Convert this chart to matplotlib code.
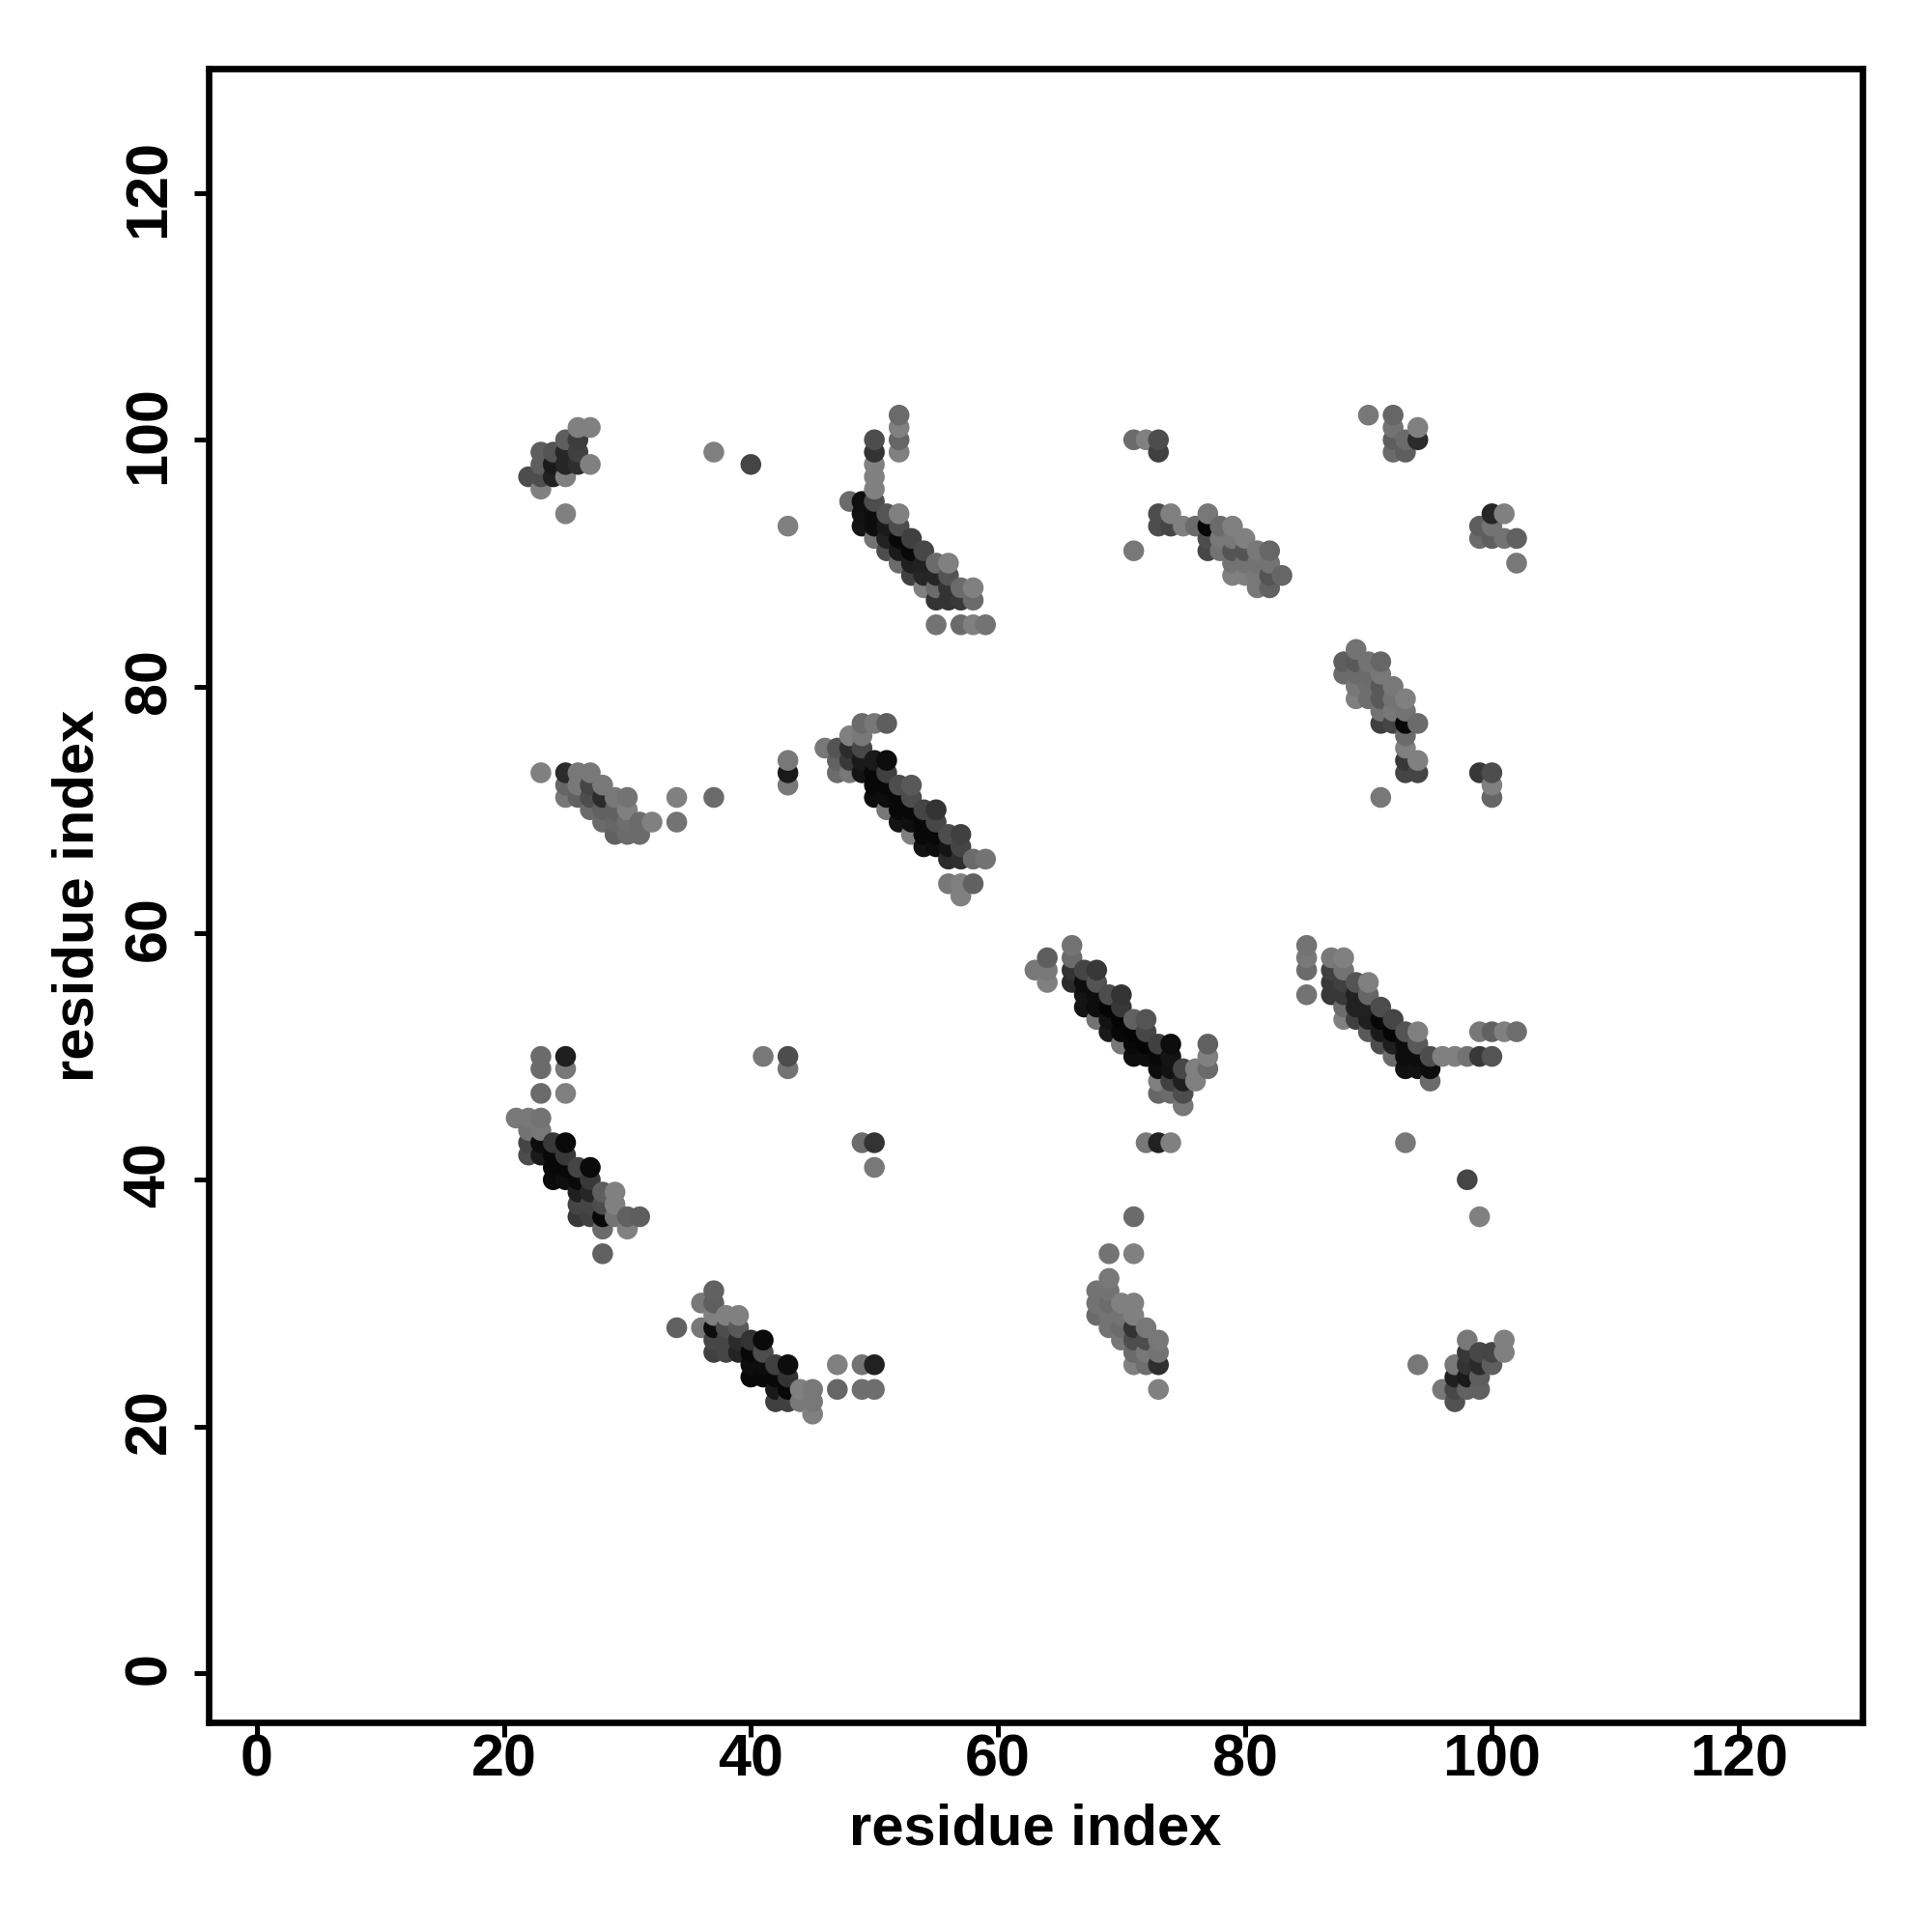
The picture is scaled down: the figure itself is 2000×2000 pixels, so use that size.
#!/usr/bin/env python
"""Residue contact map, grey level per contact."""
import matplotlib

matplotlib.use("Agg")
import numpy as np
from matplotlib import pyplot as plt
from matplotlib.transforms import ScaledTranslation

plt.rcParams["font.family"] = ["Liberation Sans", "DejaVu Sans"]

# (residue x, residue y, grey level), one list per patch
top_left = [
    (22, 97, .30), (23, 96, .50), (23, 97, .30), (23, 98, .37), (23, 99, .37), (24, 97, .13),
    (24, 98, .10), (24, 99, .33), (25, 94, .50), (25, 97, .50), (25, 98, .15), (25, 99, .15),
    (25, 100, .37), (26, 98, .18), (26, 99, .25), (26, 100, .24), (26, 101, .50), (27, 98, .50),
    (27, 101, .50), (37, 99, .50), (40, 98, .27), (43, 93, .50),
]
top_band = [
    (48, 95, .42), (49, 93, .08), (49, 94, .07), (49, 95, .06), (50, 92, .45), (50, 93, .05),
    (50, 94, .05), (50, 95, .30), (50, 96, .50), (50, 97, .50), (50, 98, .50), (50, 99, .20),
    (50, 100, .30), (51, 91, .30), (51, 92, .13), (51, 93, .10), (51, 94, .33), (52, 90, .42),
    (52, 91, .10), (52, 92, .03), (52, 93, .30), (52, 94, .50), (52, 99, .50), (52, 100, .40),
    (52, 101, .50), (52, 102, .42), (53, 89, .25), (53, 90, .12), (53, 91, .03), (53, 92, .25),
    (54, 88, .50), (54, 89, .15), (54, 90, .13), (54, 91, .28), (55, 85, .45), (55, 87, .20),
    (55, 88, .42), (55, 89, .15), (55, 90, .42), (56, 87, .20), (56, 88, .20), (56, 89, .33),
    (56, 90, .50), (57, 85, .42), (57, 87, .22), (57, 88, .42), (58, 85, .50), (58, 87, .42),
    (58, 88, .50), (59, 85, .45),
]
top_mid = [
    (71, 91, .47), (71, 100, .42), (72, 100, .50), (73, 93, .30), (73, 94, .30), (73, 99, .25),
    (73, 100, .30), (74, 93, .27), (74, 94, .50), (75, 93, .50), (76, 93, .42), (77, 91, .28),
    (77, 92, .30), (77, 93, .03), (77, 94, .47), (78, 91, .45), (78, 92, .47), (78, 93, .42),
    (79, 89, .50), (79, 90, .45), (79, 91, .33), (79, 92, .47), (79, 93, .50), (80, 89, .50),
    (80, 90, .45), (80, 91, .33), (80, 92, .50), (81, 88, .47), (81, 89, .47), (81, 90, .45),
    (81, 91, .47), (82, 88, .38), (82, 89, .33), (82, 90, .45), (82, 91, .40), (83, 89, .40),
]
top_right = [
    (90, 102, .47), (92, 99, .42), (92, 100, .37), (92, 101, .45), (92, 102, .40), (93, 99, .37),
    (93, 100, .42), (94, 100, .17), (94, 101, .50), (99, 92, .42), (99, 93, .37), (100, 92, .37),
    (100, 93, .45), (100, 94, .15), (101, 92, .45), (101, 94, .50), (102, 90, .47), (102, 92, .38),
]
right_band = [
    (88, 81, .42), (88, 82, .37), (89, 79, .50), (89, 80, .47), (89, 81, .42), (89, 82, .35),
    (89, 83, .45), (90, 79, .43), (90, 80, .43), (90, 81, .42), (90, 82, .45), (91, 71, .47),
    (91, 77, .25), (91, 78, .45), (91, 79, .35), (91, 80, .35), (91, 81, .47), (91, 82, .40),
    (92, 77, .27), (92, 78, .47), (92, 79, .45), (92, 80, .47), (93, 73, .27), (93, 74, .22),
    (93, 75, .50), (93, 76, .42), (93, 77, .03), (93, 78, .45), (93, 79, .50), (94, 73, .27),
    (94, 74, .50), (94, 77, .42), (99, 73, .22), (100, 71, .40), (100, 72, .50), (100, 73, .30),
]
left_mid = [
    (23, 73, .50), (25, 71, .47), (25, 72, .40), (25, 73, .17), (26, 71, .38), (26, 72, .47),
    (26, 73, .47), (27, 70, .42), (27, 71, .30), (27, 72, .27), (27, 73, .47), (28, 69, .42),
    (28, 70, .38), (28, 71, .17), (28, 72, .47), (29, 68, .38), (29, 69, .40), (29, 70, .38),
    (29, 71, .47), (30, 68, .42), (30, 69, .43), (30, 70, .50), (30, 71, .45), (31, 68, .42),
    (31, 69, .42), (32, 69, .50), (34, 69, .45), (34, 71, .50), (37, 71, .42), (43, 72, .47),
    (43, 73, .10), (43, 74, .47),
]
mid_band = [
    (46, 75, .47), (47, 73, .42), (47, 74, .38), (47, 75, .33), (48, 73, .47), (48, 74, .22),
    (48, 75, .17), (48, 76, .50), (49, 73, .08), (49, 74, .10), (49, 75, .28), (49, 76, .47),
    (49, 77, .42), (50, 71, .05), (50, 72, .03), (50, 73, .03), (50, 74, .10), (50, 77, .47),
    (51, 70, .47), (51, 71, .05), (51, 72, .03), (51, 73, .25), (51, 74, .05), (51, 77, .37),
    (52, 69, .08), (52, 70, .03), (52, 71, .03), (52, 72, .30), (53, 68, .50), (53, 69, .06),
    (53, 70, .03), (53, 71, .30), (53, 72, .35), (54, 67, .07), (54, 68, .03), (54, 69, .03),
    (54, 70, .27), (55, 67, .05), (55, 68, .03), (55, 69, .28), (55, 70, .20), (56, 64, .47),
    (56, 66, .17), (56, 67, .08), (56, 68, .30), (57, 63, .50), (57, 64, .50), (57, 66, .18),
    (57, 67, .27), (57, 68, .25), (58, 64, .38), (58, 66, .42), (59, 66, .45),
]
centre_band = [
    (63, 57, .47), (64, 56, .50), (64, 57, .47), (64, 58, .37), (66, 56, .17), (66, 57, .20),
    (66, 58, .42), (66, 59, .45), (67, 54, .08), (67, 55, .08), (67, 56, .05), (67, 57, .27),
    (68, 53, .45), (68, 54, .05), (68, 55, .05), (68, 56, .33), (68, 57, .22), (69, 52, .10),
    (69, 53, .07), (69, 54, .02), (69, 55, .30), (70, 51, .47), (70, 52, .03), (70, 53, .02),
    (70, 54, .22), (70, 55, .20), (71, 50, .05), (71, 51, .03), (71, 52, .02), (71, 53, .38),
    (72, 43, .47), (72, 50, .05), (72, 51, .02), (72, 52, .28), (72, 53, .33), (73, 43, .13),
    (73, 47, .40), (73, 48, .50), (73, 49, .05), (73, 50, .03), (73, 51, .25), (74, 43, .50),
    (74, 47, .42), (74, 48, .25), (74, 49, .07), (74, 50, .08), (74, 51, .05), (75, 46, .47),
    (75, 47, .30), (75, 48, .12), (75, 49, .28), (76, 48, .50), (76, 49, .50), (77, 49, .42),
    (77, 50, .50), (77, 51, .38),
]
right_low_band = [
    (85, 55, .45), (85, 57, .42), (85, 58, .47), (85, 59, .45), (87, 55, .22), (87, 56, .22),
    (87, 57, .25), (87, 58, .47), (88, 53, .50), (88, 54, .42), (88, 55, .22), (88, 56, .25),
    (88, 57, .45), (88, 58, .50), (89, 53, .25), (89, 54, .13), (89, 55, .13), (89, 56, .33),
    (90, 52, .35), (90, 53, .12), (90, 54, .13), (90, 55, .40), (90, 56, .50), (91, 51, .30),
    (91, 52, .10), (91, 53, .03), (91, 54, .30), (92, 50, .42), (92, 51, .12), (92, 52, .02),
    (92, 53, .27), (93, 43, .47), (93, 49, .07), (93, 50, .05), (93, 51, .05), (93, 52, .33),
    (94, 49, .07), (94, 50, .05), (94, 51, .35), (94, 52, .50), (95, 48, .42), (95, 49, .05),
    (95, 50, .30), (96, 50, .50), (97, 50, .50), (98, 50, .45), (99, 50, .22), (99, 52, .47),
    (100, 50, .33), (100, 52, .38), (101, 52, .50), (102, 52, .43),
]
left_low_band = [
    (21, 45, .47), (22, 42, .30), (22, 43, .27), (22, 44, .45), (22, 45, .47), (23, 42, .10),
    (23, 43, .05), (23, 44, .47), (23, 45, .45), (23, 47, .42), (23, 49, .42), (23, 50, .42),
    (24, 40, .04), (24, 41, .03), (24, 42, .03), (24, 43, .22), (25, 40, .06), (25, 41, .03),
    (25, 42, .22), (25, 43, .04), (25, 47, .50), (25, 49, .47), (25, 50, .12), (26, 37, .22),
    (26, 38, .27), (26, 39, .12), (26, 40, .04), (26, 41, .27), (27, 37, .25), (27, 38, .27),
    (27, 39, .15), (27, 40, .22), (27, 41, .04), (28, 34, .38), (28, 36, .42), (28, 37, .03),
    (28, 38, .30), (28, 39, .37), (29, 37, .45), (29, 38, .50), (29, 39, .50), (30, 36, .50),
    (30, 37, .38), (31, 37, .37),
]
bottom_band = [
    (34, 28, .38), (36, 28, .47), (36, 30, .47), (37, 26, .25), (37, 27, .28), (37, 28, .05),
    (37, 29, .50), (37, 30, .37), (37, 31, .38), (38, 26, .27), (38, 27, .27), (38, 28, .30),
    (38, 29, .50), (39, 26, .14), (39, 27, .17), (39, 28, .35), (39, 29, .50), (40, 24, .03),
    (40, 25, .05), (40, 26, .03), (40, 27, .20), (41, 24, .03), (41, 25, .05), (41, 26, .30),
    (41, 27, .04), (41, 50, .47), (42, 22, .25), (42, 23, .10), (42, 24, .03), (42, 25, .25),
    (43, 22, .25), (43, 23, .03), (43, 24, .20), (43, 25, .05), (43, 49, .45), (43, 50, .30),
    (44, 22, .47), (44, 23, .50), (45, 21, .50), (45, 22, .47), (45, 23, .47), (47, 23, .40),
    (47, 25, .50), (49, 23, .43), (49, 25, .45), (49, 43, .42), (50, 23, .43), (50, 25, .13),
    (50, 41, .47), (50, 43, .20),
]
bottom_mid = [
    (68, 29, .42), (68, 30, .45), (68, 31, .45), (69, 28, .45), (69, 29, .45), (69, 30, .42),
    (69, 31, .45), (69, 32, .47), (69, 34, .45), (70, 27, .47), (70, 28, .42), (70, 29, .45),
    (70, 30, .50), (71, 25, .50), (71, 26, .42), (71, 27, .30), (71, 28, .20), (71, 29, .50),
    (71, 30, .50), (71, 34, .50), (71, 37, .42), (72, 25, .43), (72, 26, .47), (72, 27, .30),
    (72, 28, .47), (73, 23, .50), (73, 25, .18), (73, 26, .45), (73, 27, .47),
]
bottom_right = [
    (94, 25, .47), (96, 23, .47), (97, 22, .32), (97, 23, .28), (97, 24, .12), (97, 25, .47),
    (98, 23, .38), (98, 24, .10), (98, 25, .20), (98, 26, .22), (98, 27, .47), (98, 40, .27),
    (99, 23, .38), (99, 24, .37), (99, 25, .17), (99, 26, .28), (99, 37, .50), (100, 25, .37),
    (100, 26, .27), (101, 26, .50), (101, 27, .50),
]

patches = [top_left, top_band, top_mid, top_right, right_band, left_mid, mid_band, centre_band,
           right_low_band, left_low_band, bottom_band, bottom_mid, bottom_right]
ticks = [0, 20, 40, 60, 80, 100, 120]

data = np.array([p for patch in patches for p in patch])
data = data[np.lexsort((data[:, 1], data[:, 0]))]  # later residues sit on top

fig = plt.figure(figsize=(10, 10), dpi=200)
ax = fig.add_axes([216 / 2000, 1 - 1783 / 2000, (1928 - 216) / 2000, (1783 - 71) / 2000])
ax.scatter(data[:, 0], data[:, 1], c=[str(g) for g in data[:, 2]], s=60, linewidths=0, clip_on=False)

ax.set_xlim(-3.9, 130.0)
ax.set_ylim(-4, 130.1)
ax.set_xticks(ticks)
ax.set_yticks(ticks)
ax.set_xticklabels(ticks, fontsize=22, fontweight="bold")
ax.set_yticklabels(ticks, fontsize=22, fontweight="bold", rotation=90, va="center")
ax.tick_params(length=5.5, width=1.8)
ax.tick_params(axis="x", pad=-1.4)
ax.tick_params(axis="y", pad=6)
for s in ax.spines.values():
    s.set_linewidth(2.4)

# rotated labels sit a touch low otherwise
nudge = ScaledTranslation(0, 1.9 / 72, fig.dpi_scale_trans)
for lab in ax.get_yticklabels():
    lab.set_transform(lab.get_transform() + nudge)

ax.set_xlabel("residue index", fontsize=21.5, fontweight="bold")
ax.set_ylabel("residue index", fontsize=21.5, fontweight="bold")
ax.xaxis.set_label_coords(0.5, 1 - (1894 - 71) / 1712, transform=ax.transAxes)
ax.yaxis.set_label_coords((81 - 216) / 1712, 0.5, transform=ax.transAxes)
ax.xaxis.label.set_va("center")
ax.yaxis.label.set_va("center")

fig.savefig("out.png", dpi=200, facecolor="white")
